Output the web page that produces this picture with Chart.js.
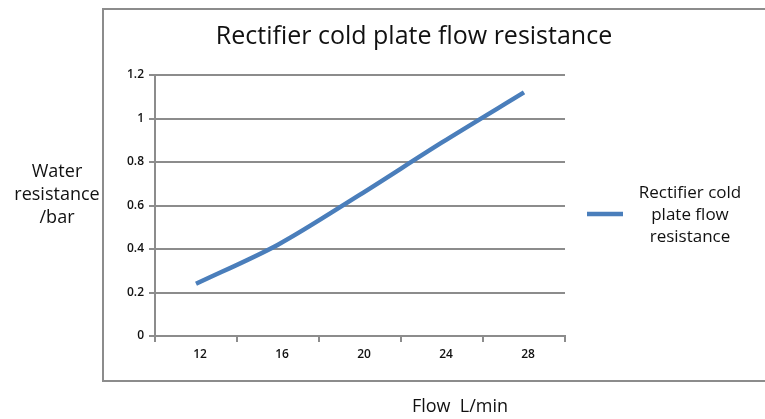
<!DOCTYPE html>
<html>
<head>
<meta charset="utf-8">
<title>Rectifier cold plate flow resistance</title>
<script src="https://cdn.jsdelivr.net/npm/chart.js@4/dist/chart.umd.min.js"></script>
<style>
  html, body { margin: 0; padding: 0; background: #fff; overflow: hidden; }
  #wrap { width: 765px; height: 419px; }
  canvas { display: block; }
</style>
</head>
<body>
<div id="wrap"><canvas id="flowChart" width="765" height="419"></canvas></div>
<script>
// Flow rate categories (L/min) and measured pressure drop (bar)
const flowRates = ["12", "16", "20", "24", "28"];
const resistance = [0.24, 0.42, 0.65, 0.89, 1.12];

const chartTitle = "Rectifier cold plate flow resistance";
const seriesName = "Rectifier cold plate flow resistance";
const legendLines = ["Rectifier cold", "plate flow", "resistance"];
const yTitleLines = ["Water", "resistance", "/bar"];
const xTitle = "Flow  L/min";

const yMin = 0;
const yMax = 1.2;
const yStep = 0.2;

const FONT = "'Open Sans', 'DejaVu Sans', sans-serif";
const GRID = "#8c8c8c";
const LINE = "#4a7ebb";

// Frame, titles and the side legend are drawn by hand around the plot
const decorations = {
  id: "decorations",
  beforeDraw(chart) {
    const ctx = chart.ctx;
    ctx.save();
    ctx.fillStyle = "#fff";
    ctx.fillRect(0, 0, chart.width, chart.height);
    // frame runs off the right edge, so only three sides show
    ctx.strokeStyle = GRID;
    ctx.lineWidth = 2;
    ctx.beginPath();
    ctx.moveTo(chart.width + 5, 9);
    ctx.lineTo(103, 9);
    ctx.lineTo(103, 381);
    ctx.lineTo(chart.width + 5, 381);
    ctx.stroke();
    ctx.restore();
  },
  afterDraw(chart) {
    const ctx = chart.ctx;
    ctx.save();
    ctx.fillStyle = "#111";
    ctx.textAlign = "center";
    ctx.textBaseline = "middle";

    ctx.font = "25px " + FONT;
    ctx.fillText(chartTitle, 414, 37);

    ctx.font = "18px " + FONT;
    yTitleLines.forEach((t, i) => ctx.fillText(t, 57, 172 + i * 23));
    ctx.fillText(xTitle, 460, 407);

    // legend entry for the single series
    const ds = chart.data.datasets[0];
    ctx.strokeStyle = ds.borderColor;
    ctx.lineWidth = ds.borderWidth;
    ctx.beginPath();
    ctx.moveTo(587, 214);
    ctx.lineTo(623, 214);
    ctx.stroke();
    ctx.font = "17px " + FONT;
    legendLines.forEach((t, i) => ctx.fillText(t, 690, 193 + i * 22));
    ctx.restore();
  }
};

new Chart(document.getElementById("flowChart"), {
  type: "line",
  data: {
    labels: flowRates,
    datasets: [
      {
        label: seriesName,
        data: resistance,
        borderColor: LINE,
        backgroundColor: LINE,
        borderWidth: 4.5,
        pointRadius: 0,
        tension: 0.3,
        fill: false
      }
    ]
  },
  options: {
    responsive: false,
    animation: false,
    layout: { padding: { top: 75, right: 200, left: 0, bottom: 0 } },
    plugins: {
      legend: { display: false },
      title: { display: false },
      tooltip: { enabled: false }
    },
    scales: {
      x: {
        offset: true,
        afterFit(scale) { scale.height = 83; },
        grid: {
          offset: true,
          drawOnChartArea: false,
          drawTicks: true,
          tickLength: 6,
          color: GRID,
          lineWidth: 2
        },
        border: { color: GRID, width: 2 },
        ticks: {
          color: "#111",
          padding: 5,
          labelOffset: 4,
          maxRotation: 0,
          font: { family: FONT, size: 12, weight: "600" }
        }
      },
      y: {
        min: yMin,
        max: yMax,
        afterFit(scale) { scale.width = 155; },
        grid: {
          color: GRID,
          lineWidth: 2,
          drawTicks: true,
          tickLength: 6
        },
        border: { color: GRID, width: 2 },
        ticks: {
          stepSize: yStep,
          color: "#111",
          padding: 5,
          font: { family: FONT, size: 12, weight: "600" },
          callback: (v) => String(Math.round(v * 10) / 10)
        }
      }
    }
  },
  plugins: [decorations]
});
</script>
</body>
</html>
